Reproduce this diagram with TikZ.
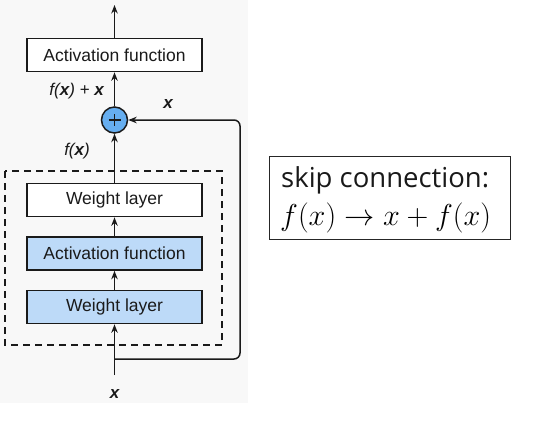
\RequirePackage{fix-cm}
\documentclass[tikz,border=0pt]{standalone}
\usepackage{fontspec}
\usetikzlibrary{arrows.meta,calc}
\newfontfamily\arialf{Liberation Sans}
\newfontfamily\opensf{Open Sans}
\definecolor{bgc}{HTML}{F8F8F8}
\definecolor{lblue}{HTML}{BDDAF8}
\definecolor{cblue}{HTML}{66AEF0}
\definecolor{edgec}{HTML}{1A1A1A}
\begin{document}
\begin{tikzpicture}[x=1pt,y=-1pt,
  layer/.style={draw=edgec, line width=1.6pt, minimum width=175pt, minimum height=33pt, inner sep=0pt,
    font=\arialf\fontsize{17.5}{20}\selectfont, text=edgec},
  conn/.style={line width=1.5pt, draw=edgec, -{Stealth[length=8.5pt,width=6.5pt]}},
  lbl/.style={font=\arialf\itshape\fontsize{17}{19}\selectfont, text=edgec, inner sep=0pt}]
\useasboundingbox (0,0) rectangle (537,420);
\fill[bgc] (0,0) rectangle (248,403);
% dashed block
\draw[edgec, line width=1.5pt, dash pattern=on 7pt off 5pt] (5,171) rectangle (222,345);
% nodes
\node[layer, fill=white] (act2) at (114.5,55) {Activation function};
\node[layer, fill=white] (wl2) at (114.5,200) {Weight layer};
\node[layer, fill=lblue] (act1) at (114.5,253.5) {Activation function};
\node[layer, fill=lblue] (wl1) at (114.5,307) {Weight layer};
\node[circle, draw=edgec, line width=1.5pt, fill=cblue, minimum size=26pt, inner sep=0pt] (plus) at (114.5,120) {};
\draw[edgec, line width=1.4pt] ($(plus)+(-6,0)$) -- ($(plus)+(6,0)$) ($(plus)+(0,-6)$) -- ($(plus)+(0,6)$);
\coordinate (top) at (114.5,5);
\coordinate (in) at (114.5,375);
\coordinate (br) at (114.5,359);
\coordinate (c1) at (240,359);
\coordinate (c2) at (240,120);
% connectors
\draw[conn] (act2) -- (top);
\draw[conn] (plus) -- (act2);
\draw[conn] (wl2) -- (plus);
\draw[conn] (act1) -- (wl2);
\draw[conn] (wl1) -- (act1);
\draw[conn] (in) -- (wl1);
\draw[conn, rounded corners=6pt] (br) -- (c1) -- (c2) -- (plus);
% labels
\node[lbl, anchor=east] (l1) at (104,91) {f(\textbf{x}) + \textbf{x}};
\node[lbl] (l2) at (168,104) {\textbf{x}};
\node[lbl] (l3) at (77,151) {f(\textbf{x})};
\node[lbl] (l4) at (114.5,394) {\textbf{x}};
% right box
\node[draw=black!85, line width=1pt, minimum width=241pt, minimum height=83pt, inner sep=0pt] (skip) at (389.5,197.5) {};
\node[anchor=base west, inner sep=0pt, font=\opensf\fontsize{27.5}{32}\selectfont, text=black!90] (t1) at (281,187) {skip connection:};
\node[anchor=base west, inner sep=0pt, font=\fontsize{30.2}{36}\selectfont] (t2) at (280,225) {$f(x)\to x+f(x)$};
\end{tikzpicture}
\end{document}
